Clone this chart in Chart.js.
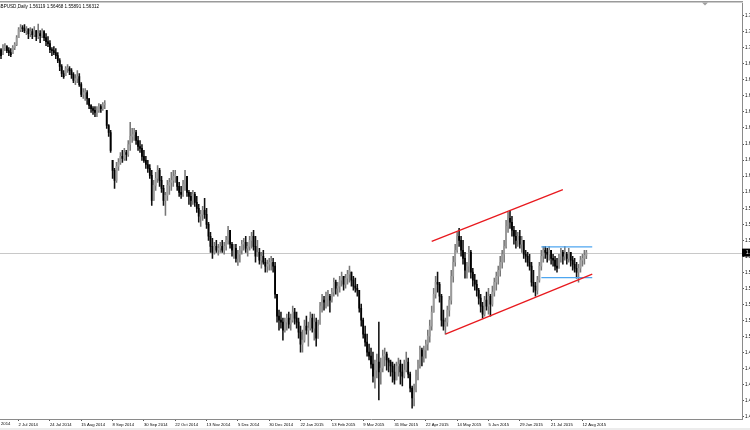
<!DOCTYPE html>
<html>
<head>
<meta charset="utf-8">
<script src="https://cdn.jsdelivr.net/npm/chart.js@4.4.1/dist/chart.umd.min.js"></script>
<style>
  html, body { margin: 0; padding: 0; background: #fff; }
  #wrap { width: 750px; height: 430px; }
</style>
</head>
<body>
<div id="wrap"><canvas id="chart" width="750" height="430"></canvas></div>
<script>
// GBPUSD daily, 19 Jun 2014 - 14 Aug 2015
const titleText = 'GBPUSD,Daily 1.56119 1.56468 1.55891 1.56312';
const firstDay = '2014-06-19';
const holidays = ['2014-12-25', '2015-01-01'];
const slotCount = 379;
const leadLabel = '10 Jun 2014';
const dateTicks = ['2 Jul 2014', '24 Jul 2014', '15 Aug 2014', '8 Sep 2014', '30 Sep 2014',
  '22 Oct 2014', '13 Nov 2014', '5 Dec 2014', '30 Dec 2014', '22 Jan 2015', '13 Feb 2015',
  '9 Mar 2015', '31 Mar 2015', '22 Apr 2015', '14 May 2015', '5 Jun 2015', '29 Jun 2015',
  '21 Jul 2015', '12 Aug 2015'];
const priceTicks = [1.4505, 1.4615, 1.4725, 1.4835, 1.4945, 1.5055, 1.5165, 1.5275, 1.5385,
  1.5495, 1.5605, 1.5715, 1.5825, 1.5935, 1.6045, 1.6155, 1.6265, 1.6375, 1.6485, 1.6595,
  1.6705, 1.6815, 1.6925, 1.7035, 1.7145, 1.7255];

const firstOpen = 1.7020;
const highs = [
  1.7029, 1.7056, 1.7063, 1.7049, 1.7036, 1.7029, 1.7049, 1.7070, 1.7118, 1.7172,
  1.7193, 1.7186, 1.7193, 1.7179, 1.7165, 1.7172, 1.7165, 1.7179, 1.7152, 1.7197,
  1.7152, 1.7165, 1.7152, 1.7131, 1.7111, 1.7083, 1.7036, 1.7042, 1.7029, 1.7001,
  1.6960, 1.6919, 1.6878, 1.6906, 1.6919, 1.6906, 1.6892, 1.6865, 1.6851, 1.6878,
  1.6858, 1.6796, 1.6755, 1.6755, 1.6741, 1.6687, 1.6646, 1.6632, 1.6632, 1.6632,
  1.6652, 1.6646, 1.6659, 1.6673, 1.6605, 1.6509, 1.6468, 1.6263, 1.6208, 1.6249,
  1.6276, 1.6317, 1.6331, 1.6345, 1.6331, 1.6399, 1.6523, 1.6482, 1.6482, 1.6468,
  1.6427, 1.6399, 1.6372, 1.6331, 1.6290, 1.6263, 1.6235, 1.6194, 1.6126, 1.6181,
  1.6228, 1.6208, 1.6153, 1.6092, 1.6044, 1.6126, 1.6140, 1.6181, 1.6194, 1.6194,
  1.6153, 1.6112, 1.6085, 1.6126, 1.6194, 1.6153, 1.6057, 1.6044, 1.6057, 1.6044,
  1.6016, 1.5962, 1.5921, 1.5948, 1.6003, 1.5934, 1.5839, 1.5770, 1.5729, 1.5702,
  1.5715, 1.5688, 1.5702, 1.5715, 1.5702, 1.5743, 1.5811, 1.5784, 1.5702, 1.5688,
  1.5688, 1.5647, 1.5674, 1.5715, 1.5729, 1.5743, 1.5702, 1.5743, 1.5770, 1.5784,
  1.5743, 1.5715, 1.5661, 1.5633, 1.5647, 1.5592, 1.5579, 1.5592, 1.5606, 1.5592,
  1.5565, 1.5346, 1.5237, 1.5223, 1.5182, 1.5182, 1.5209, 1.5223, 1.5209, 1.5264,
  1.5250, 1.5223, 1.5182, 1.5127, 1.5100, 1.5168, 1.5196, 1.5155, 1.5223, 1.5209,
  1.5209, 1.5182, 1.5168, 1.5291, 1.5346, 1.5332, 1.5360, 1.5373, 1.5346, 1.5387,
  1.5456, 1.5442, 1.5428, 1.5469, 1.5497, 1.5469, 1.5483, 1.5510, 1.5538, 1.5497,
  1.5469, 1.5456, 1.5414, 1.5373, 1.5278, 1.5182, 1.5127, 1.5073, 1.5004, 1.4977,
  1.4949, 1.4895, 1.4936, 1.5155, 1.4908, 1.4963, 1.4977, 1.4949, 1.4908, 1.4895,
  1.4881, 1.4867, 1.4881, 1.4908, 1.4895, 1.4867, 1.4895, 1.4949, 1.4908, 1.4813,
  1.4717, 1.4730, 1.4826, 1.4895, 1.4990, 1.4977, 1.4990, 1.5031, 1.5100, 1.5168,
  1.5264, 1.5387, 1.5469, 1.5497, 1.5428, 1.5346, 1.5237, 1.5182, 1.5264, 1.5332,
  1.5510, 1.5606, 1.5688, 1.5770, 1.5797, 1.5743, 1.5715, 1.5633, 1.5565, 1.5674,
  1.5647, 1.5524, 1.5483, 1.5442, 1.5387, 1.5346, 1.5291, 1.5332, 1.5360, 1.5387,
  1.5346, 1.5401, 1.5456, 1.5497, 1.5538, 1.5606, 1.5647, 1.5715, 1.5852, 1.5907,
  1.5921, 1.5880, 1.5811, 1.5784, 1.5770, 1.5784, 1.5743, 1.5715, 1.5647, 1.5633,
  1.5620, 1.5565, 1.5510, 1.5428, 1.5469, 1.5565, 1.5647, 1.5674, 1.5674, 1.5661,
  1.5674, 1.5647, 1.5620, 1.5606, 1.5592, 1.5620, 1.5661, 1.5647, 1.5674, 1.5633,
  1.5661, 1.5633, 1.5606, 1.5592, 1.5565, 1.5551, 1.5606, 1.5620, 1.5647, 1.5647
];
const lows = [
  1.6960, 1.6988, 1.7015, 1.7001, 1.6981, 1.6974, 1.6994, 1.7022, 1.7049, 1.7104,
  1.7145, 1.7145, 1.7138, 1.7124, 1.7097, 1.7111, 1.7097, 1.7111, 1.7083, 1.7097,
  1.7070, 1.7104, 1.7083, 1.7049, 1.7042, 1.7001, 1.6981, 1.6988, 1.6960, 1.6933,
  1.6878, 1.6837, 1.6824, 1.6844, 1.6865, 1.6851, 1.6824, 1.6796, 1.6782, 1.6796,
  1.6769, 1.6700, 1.6687, 1.6673, 1.6646, 1.6618, 1.6591, 1.6577, 1.6563, 1.6563,
  1.6591, 1.6591, 1.6605, 1.6618, 1.6482, 1.6427, 1.6317, 1.6140, 1.6071, 1.6112,
  1.6194, 1.6235, 1.6249, 1.6263, 1.6263, 1.6290, 1.6331, 1.6386, 1.6399, 1.6372,
  1.6331, 1.6317, 1.6263, 1.6249, 1.6208, 1.6181, 1.6140, 1.5955, 1.5989, 1.6057,
  1.6112, 1.6085, 1.6044, 1.5955, 1.5886, 1.5989, 1.6030, 1.6057, 1.6085, 1.6112,
  1.6057, 1.6016, 1.6003, 1.6016, 1.6057, 1.6016, 1.5962, 1.5948, 1.5962, 1.5948,
  1.5907, 1.5839, 1.5811, 1.5852, 1.5866, 1.5797, 1.5715, 1.5633, 1.5592, 1.5620,
  1.5633, 1.5613, 1.5633, 1.5633, 1.5620, 1.5647, 1.5688, 1.5661, 1.5606, 1.5592,
  1.5565, 1.5544, 1.5565, 1.5620, 1.5647, 1.5633, 1.5606, 1.5647, 1.5661, 1.5647,
  1.5565, 1.5606, 1.5551, 1.5524, 1.5551, 1.5497, 1.5497, 1.5510, 1.5510, 1.5497,
  1.5319, 1.5155, 1.5100, 1.5114, 1.5031, 1.5086, 1.5100, 1.5114, 1.5100, 1.5155,
  1.5141, 1.5114, 1.5045, 1.4949, 1.4949, 1.5018, 1.5073, 1.4990, 1.5100, 1.5086,
  1.5031, 1.4990, 1.5045, 1.5141, 1.5223, 1.5237, 1.5250, 1.5264, 1.5223, 1.5291,
  1.5332, 1.5346, 1.5332, 1.5360, 1.5401, 1.5373, 1.5387, 1.5414, 1.5428, 1.5401,
  1.5373, 1.5360, 1.5332, 1.5223, 1.5127, 1.5045, 1.4990, 1.4922, 1.4895, 1.4840,
  1.4744, 1.4703, 1.4772, 1.4621, 1.4730, 1.4813, 1.4854, 1.4826, 1.4813, 1.4785,
  1.4744, 1.4730, 1.4758, 1.4785, 1.4730, 1.4717, 1.4772, 1.4813, 1.4772, 1.4676,
  1.4566, 1.4580, 1.4676, 1.4758, 1.4840, 1.4854, 1.4881, 1.4908, 1.4963, 1.5018,
  1.5100, 1.5223, 1.5319, 1.5360, 1.5291, 1.5127, 1.5100, 1.5073, 1.5127, 1.5196,
  1.5278, 1.5428, 1.5538, 1.5633, 1.5674, 1.5606, 1.5551, 1.5456, 1.5456, 1.5497,
  1.5456, 1.5401, 1.5373, 1.5332, 1.5278, 1.5223, 1.5182, 1.5196, 1.5237, 1.5209,
  1.5196, 1.5264, 1.5332, 1.5373, 1.5414, 1.5469, 1.5524, 1.5565, 1.5661, 1.5770,
  1.5797, 1.5743, 1.5688, 1.5661, 1.5674, 1.5661, 1.5633, 1.5592, 1.5565, 1.5538,
  1.5510, 1.5401, 1.5360, 1.5332, 1.5346, 1.5428, 1.5510, 1.5565, 1.5592, 1.5565,
  1.5579, 1.5551, 1.5538, 1.5510, 1.5497, 1.5524, 1.5565, 1.5551, 1.5579, 1.5551,
  1.5565, 1.5538, 1.5510, 1.5497, 1.5456, 1.5428, 1.5497, 1.5538, 1.5551, 1.5589
];
const closes = [
  1.6981, 1.7036, 1.7042, 1.7015, 1.7001, 1.6988, 1.7036, 1.7056, 1.7104, 1.7159,
  1.7172, 1.7165, 1.7152, 1.7165, 1.7131, 1.7145, 1.7124, 1.7152, 1.7111, 1.7131,
  1.7118, 1.7145, 1.7104, 1.7077, 1.7063, 1.7022, 1.7015, 1.7001, 1.6981, 1.6947,
  1.6906, 1.6858, 1.6837, 1.6892, 1.6892, 1.6878, 1.6851, 1.6810, 1.6824, 1.6837,
  1.6782, 1.6714, 1.6728, 1.6728, 1.6687, 1.6639, 1.6618, 1.6605, 1.6591, 1.6605,
  1.6632, 1.6618, 1.6646, 1.6652, 1.6502, 1.6454, 1.6331, 1.6194, 1.6126, 1.6222,
  1.6249, 1.6290, 1.6276, 1.6317, 1.6304, 1.6372, 1.6427, 1.6440, 1.6454, 1.6399,
  1.6358, 1.6345, 1.6290, 1.6263, 1.6235, 1.6208, 1.6160, 1.5989, 1.6092, 1.6140,
  1.6194, 1.6126, 1.6071, 1.5989, 1.6023, 1.6092, 1.6112, 1.6126, 1.6153, 1.6167,
  1.6085, 1.6044, 1.6030, 1.6098, 1.6153, 1.6044, 1.6016, 1.5989, 1.6030, 1.5975,
  1.5934, 1.5880, 1.5893, 1.5921, 1.5893, 1.5825, 1.5743, 1.5674, 1.5633, 1.5674,
  1.5647, 1.5661, 1.5674, 1.5647, 1.5674, 1.5715, 1.5784, 1.5688, 1.5647, 1.5661,
  1.5592, 1.5620, 1.5647, 1.5688, 1.5702, 1.5661, 1.5674, 1.5715, 1.5743, 1.5674,
  1.5606, 1.5633, 1.5579, 1.5606, 1.5565, 1.5538, 1.5551, 1.5565, 1.5565, 1.5538,
  1.5346, 1.5196, 1.5168, 1.5155, 1.5100, 1.5155, 1.5182, 1.5141, 1.5168, 1.5223,
  1.5182, 1.5155, 1.5086, 1.5004, 1.5031, 1.5127, 1.5100, 1.5114, 1.5182, 1.5114,
  1.5155, 1.5045, 1.5127, 1.5264, 1.5305, 1.5291, 1.5319, 1.5332, 1.5305, 1.5360,
  1.5428, 1.5387, 1.5401, 1.5442, 1.5469, 1.5414, 1.5456, 1.5483, 1.5510, 1.5442,
  1.5401, 1.5387, 1.5373, 1.5250, 1.5168, 1.5073, 1.5018, 1.4949, 1.4922, 1.4867,
  1.4785, 1.4826, 1.4881, 1.4813, 1.4840, 1.4922, 1.4936, 1.4895, 1.4881, 1.4854,
  1.4813, 1.4758, 1.4854, 1.4867, 1.4813, 1.4785, 1.4826, 1.4881, 1.4799, 1.4703,
  1.4635, 1.4689, 1.4785, 1.4867, 1.4963, 1.4922, 1.4963, 1.5004, 1.5059, 1.5127,
  1.5223, 1.5346, 1.5428, 1.5414, 1.5332, 1.5168, 1.5127, 1.5155, 1.5237, 1.5305,
  1.5469, 1.5565, 1.5647, 1.5743, 1.5715, 1.5647, 1.5592, 1.5510, 1.5538, 1.5633,
  1.5497, 1.5442, 1.5414, 1.5373, 1.5319, 1.5264, 1.5209, 1.5305, 1.5264, 1.5332,
  1.5278, 1.5360, 1.5428, 1.5469, 1.5510, 1.5565, 1.5620, 1.5674, 1.5811, 1.5866,
  1.5839, 1.5784, 1.5743, 1.5715, 1.5743, 1.5688, 1.5715, 1.5620, 1.5606, 1.5565,
  1.5538, 1.5428, 1.5401, 1.5373, 1.5442, 1.5538, 1.5606, 1.5647, 1.5633, 1.5620,
  1.5647, 1.5592, 1.5579, 1.5538, 1.5524, 1.5606, 1.5633, 1.5606, 1.5620, 1.5592,
  1.5633, 1.5579, 1.5551, 1.5524, 1.5497, 1.5524, 1.5579, 1.5592, 1.5612, 1.5631
];

// trend lines drawn on the chart: [date, price]
const channelTop = [['27 Apr 2015', 1.5708], ['29 Jul 2015', 1.6062]];
const channelBottom = [['6 May 2015', 1.5073], ['19 Aug 2015', 1.5483]];
const rangeTop = [['14 Jul 2015', 1.5670], ['19 Aug 2015', 1.5670]];
const rangeBottom = [['14 Jul 2015', 1.5460], ['19 Aug 2015', 1.5460]];

const monthNames = ['Jan', 'Feb', 'Mar', 'Apr', 'May', 'Jun', 'Jul', 'Aug', 'Sep', 'Oct', 'Nov', 'Dec'];
function tradingDays(start, count) {
  const out = [];
  const d = new Date(start + 'T00:00:00Z');
  while (out.length < count) {
    const iso = d.toISOString().slice(0, 10);
    const wd = d.getUTCDay();
    if (wd !== 0 && wd !== 6 && !holidays.includes(iso)) {
      out.push(d.getUTCDate() + ' ' + monthNames[d.getUTCMonth()] + ' ' + d.getUTCFullYear());
    }
    d.setUTCDate(d.getUTCDate() + 1);
  }
  return out;
}
const labels = tradingDays(firstDay, slotCount);

// open = previous close, kept inside the day's range
const opens = closes.map((c, i) => {
  const prev = i === 0 ? firstOpen : closes[i - 1];
  return Math.min(highs[i], Math.max(lows[i], prev));
});
const isUp = closes.map((c, i) => c >= opens[i]);

const wickData = highs.map((h, i) => [lows[i], h]);
const bodyData = closes.map((c, i) => [opens[i], c]);

const toPoints = (arr) => arr.map(p => ({ x: p[0], y: p[1] }));
const font = 'Liberation Sans';

const overlay = {
  id: 'overlay',
  beforeDatasetsDraw(chart) {
    const { ctx, chartArea, scales: { y } } = chart;
    const yb = Math.round(y.getPixelForValue(closes[closes.length - 1])) + 0.5;
    ctx.save();
    ctx.strokeStyle = '#c8c8c8';
    ctx.lineWidth = 1;
    ctx.beginPath();
    ctx.moveTo(chartArea.left, yb);
    ctx.lineTo(chartArea.right, yb);
    ctx.stroke();
    ctx.restore();
  },
  afterDraw(chart) {
    const { ctx, chartArea, scales: { x, y } } = chart;
    ctx.save();
    // window frame on top
    ctx.fillStyle = '#9a9a9a';
    ctx.fillRect(0, 1, chartArea.right + 1, 1.5);
    // chart shift marker
    ctx.fillStyle = '#a0a0a0';
    ctx.beginPath();
    ctx.moveTo(702, 2.5);
    ctx.lineTo(708, 2.5);
    ctx.lineTo(705, 5.5);
    ctx.closePath();
    ctx.fill();
    // symbol / OHLC line
    ctx.fillStyle = '#000';
    ctx.font = '4.6px "' + font + '"';
    ctx.textBaseline = 'middle';
    ctx.textAlign = 'left';
    ctx.fillText(titleText, -3, 6.5);
    // date label of the bar left of the visible range
    ctx.font = '4.2px "' + font + '"';
    ctx.textBaseline = 'top';
    ctx.fillText(leadLabel, x.getPixelForValue(-7), chartArea.bottom + 3);
    // bid price box
    const last = closes[closes.length - 1];
    const py = y.getPixelForValue(last);
    ctx.fillStyle = '#000';
    ctx.fillRect(chartArea.right, py - 4, 10, 8);
    ctx.fillStyle = '#fff';
    ctx.font = '4.6px "' + font + '"';
    ctx.textBaseline = 'middle';
    ctx.fillText(last.toFixed(4), chartArea.right + 4, py);
    // bottom strip of the window
    ctx.fillStyle = '#ececec';
    ctx.fillRect(0, 428, 750, 2);
    ctx.restore();
  }
};

new Chart(document.getElementById('chart'), {
  type: 'bar',
  data: {
    labels: labels,
    datasets: [
      {
        data: wickData,
        backgroundColor: isUp.map(u => u ? '#777' : '#111'),
        barThickness: 0.9,
        grouped: false,
        order: 3
      },
      {
        data: bodyData,
        backgroundColor: isUp.map(u => u ? '#9a9a9a' : '#000'),
        barThickness: 1.1,
        minBarLength: 1,
        grouped: false,
        order: 2
      },
      { type: 'line', data: toPoints(channelTop), borderColor: '#e8191e', borderWidth: 1.3, pointRadius: 0, order: 0 },
      { type: 'line', data: toPoints(channelBottom), borderColor: '#e8191e', borderWidth: 1.3, pointRadius: 0, order: 0 },
      { type: 'line', data: toPoints(rangeTop), borderColor: '#4ea6f0', borderWidth: 1.3, pointRadius: 0, order: 1 },
      { type: 'line', data: toPoints(rangeBottom), borderColor: '#4ea6f0', borderWidth: 1.3, pointRadius: 0, order: 1 }
    ]
  },
  options: {
    responsive: false,
    devicePixelRatio: 1,
    animation: false,
    layout: { padding: { left: 0, top: 3, right: 0, bottom: 0 } },
    plugins: {
      legend: { display: false },
      tooltip: { enabled: false }
    },
    scales: {
      x: {
        type: 'category',
        grid: {
          display: true,
          drawOnChartArea: false,
          offset: false,
          tickLength: 2,
          tickColor: (ctx) => dateTicks.includes(labels[ctx.index]) ? '#555' : 'rgba(0,0,0,0)'
        },
        border: { color: '#8a8a8a', width: 1 },
        ticks: {
          autoSkip: false,
          maxRotation: 0,
          align: 'start',
          padding: 1,
          color: '#000',
          font: { family: font, size: 4.2 },
          callback: (val, idx) => dateTicks.includes(labels[idx]) ? labels[idx] : ''
        },
        afterFit: (scale) => { scale.height = 11; }
      },
      y: {
        type: 'linear',
        position: 'right',
        min: 1.4491,
        max: 1.7336,
        afterBuildTicks: (scale) => { scale.ticks = priceTicks.map(v => ({ value: v })); },
        grid: { drawOnChartArea: false, tickLength: 2, tickColor: '#555' },
        border: { color: '#8a8a8a', width: 1 },
        ticks: {
          padding: 1,
          color: '#000',
          font: { family: font, size: 4.6 },
          callback: (v) => v.toFixed(4)
        },
        afterFit: (scale) => { scale.width = 8; }
      }
    }
  },
  plugins: [overlay]
});
</script>
</body>
</html>
